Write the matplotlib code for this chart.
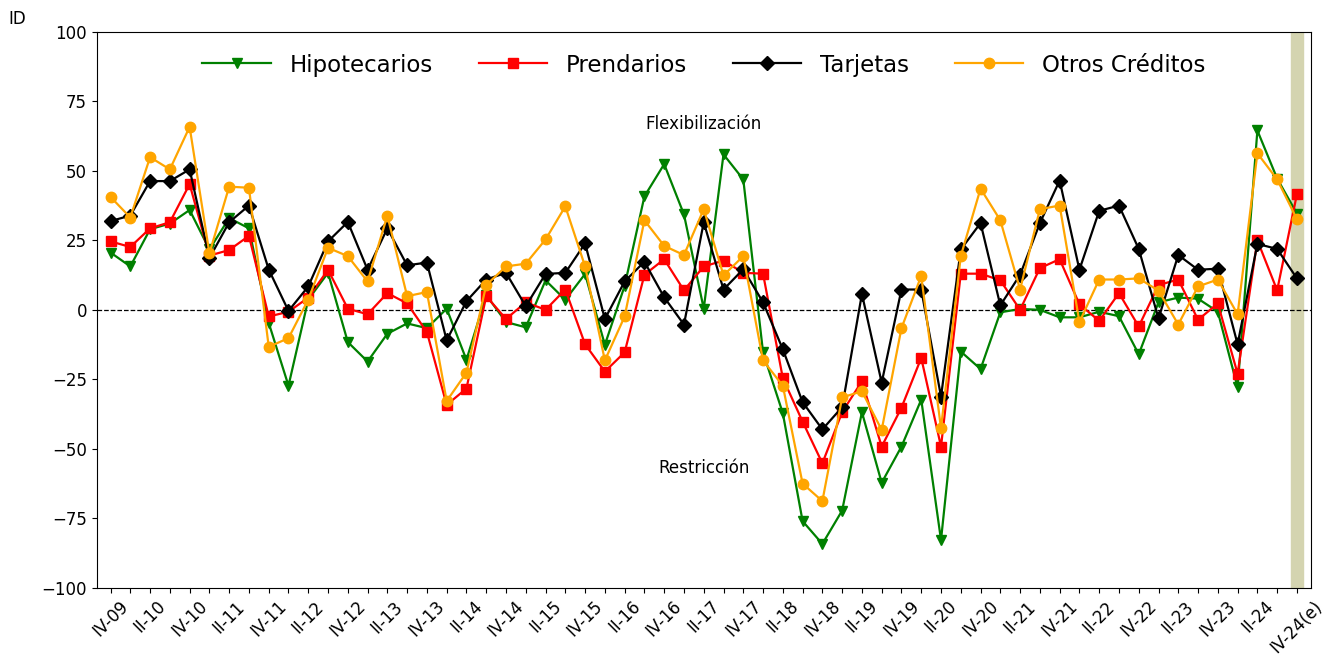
import numpy as np
import matplotlib.pyplot as plt

# quarterly series, IV-09 .. IV-24(e)
hipotecarios = [20.6, 15.6, 29, 31, 35.9, 21.7, 33, 29.3, -4.7, -27.3,
                3.7, 13.3, -11.6, -18.6, -8.6, -4.9, -6.6, 0.4, -18, 5.3,
                -4.4, -6.3, 10.6, 3.6, 12.9, -12.6, 8.6, 40.8, 52.4, 34.3,
                0.4, 55.9, 46.9, -15.3, -37.2, -76, -84.2, -72.2, -36.8, -62.2,
                -49.2, -32.3, -82.8, -15, -21.3, -0.9, 0.3, 0, -2.7, -2.7,
                -0.7, -2.3, -16, 2.7, 4.4, 4, -0.7, -27.9, 64.5, 47.2,
                34.6]
prendarios = [24.6, 22.6, 29.3, 31.5, 45.2, 19.5, 21.5, 26.6, -2.4, -0.7,
              4.4, 14.4, 0.4, -1.6, 6, 2.3, -8, -34.2, -28.3, 4.9,
              -3.3, 2.7, 0, 7.3, -12.4, -22.2, -15.3, 12.6, 18.2, 7,
              15.6, 17.7, 13.3, 13, -24.6, -40.2, -55.2, -36.8, -25.7, -49.2,
              -35.2, -17.3, -49.2, 13, 13, 10.6, 0, 15, 18.2, 2,
              -4, 6, -6, 8.9, 10.9, -3.6, 2.3, -23, 25, 7,
              41.6]
tarjetas = [31.9, 33.9, 46.3, 46.3, 50.5, 18.6, 31.5, 37.5, 14.5, -0.4,
            8.4, 24.6, 31.6, 14.4, 29.3, 16, 17, -11, 3.1, 10.9,
            13.3, 1.3, 12.9, 13.3, 23.9, -3.3, 10.2, 17.3, 4.5, -5.3,
            31.5, 7.3, 14.6, 2.7, -14.2, -33.2, -43, -35, 5.7, -26.2,
            7.3, 7.3, -31.2, 21.7, 31.2, 1.6, 12.6, 31.2, 46.5, 14.4,
            35.6, 37.5, 21.9, -3.1, 19.7, 14.4, 14.8, -12.4, 23.7, 21.9,
            11.3]
otros = [40.6, 33.2, 54.9, 50.5, 65.8, 20.3, 44.3, 43.9, -13.3, -10.2,
         3.7, 22.3, 19.3, 10.2, 33.9, 4.9, 6.4, -32.8, -22.6, 8.9,
         15.6, 16.6, 25.3, 37.2, 15.6, -18.2, -2.4, 32.2, 23, 19.7,
         36.2, 12.4, 19.3, -18.2, -27.3, -62.5, -68.8, -31.5, -29.3, -43.2,
         -6.6, 12.2, -42.6, 19.3, 43.6, 32.2, 7.3, 36.2, 37.5, -4.4,
         10.9, 10.9, 11.3, 6.9, -5.3, 8.4, 10.9, -1.6, 56.3, 46.9,
         32.6]

tick_labels = ['IV-09', 'II-10', 'IV-10', 'II-11', 'IV-11', 'II-12', 'IV-12', 'II-13',
               'IV-13', 'II-14', 'IV-14', 'II-15', 'IV-15', 'II-16', 'IV-16', 'II-17',
               'IV-17', 'II-18', 'IV-18', 'II-19', 'IV-19', 'II-20', 'IV-20', 'II-21',
               'IV-21', 'II-22', 'IV-22', 'II-23', 'IV-23', 'II-24', 'IV-24(e)']

x = np.arange(len(hipotecarios))

fig = plt.figure(figsize=(13.43, 6.62), dpi=100)
ax = fig.add_axes([0.072, 0.112, 0.904, 0.84])

ax.axvspan(x[-1] - 0.3, x[-1] + 0.3, color='#d4d4b0', zorder=0)
ax.axhline(0, color='black', linestyle='--', linewidth=0.9, zorder=1)

ax.plot(x, hipotecarios, color='green', marker='v', markersize=7.5, linewidth=1.6, label='Hipotecarios')
ax.plot(x, prendarios, color='red', marker='s', markersize=7.5, linewidth=1.6, label='Prendarios')
ax.plot(x, tarjetas, color='black', marker='D', markersize=7.5, linewidth=1.6, label='Tarjetas')
ax.plot(x, otros, color='orange', marker='o', markersize=7.5, linewidth=1.6, label='Otros Créditos')

ax.set_ylim(-100, 100)
ax.set_xlim(-0.7, 60.7)
ax.set_yticks([-100, -75, -50, -25, 0, 25, 50, 75, 100])
ax.tick_params(axis='y', labelsize=12)

labels = [''] * len(x)
labels[::2] = tick_labels
ax.set_xticks(x)
ax.set_xticklabels(labels, rotation=45, fontsize=12)

ax.text(30, 67, 'Flexibilización', ha='center', va='center', fontsize=12)
ax.text(30, -57, 'Restricción', ha='center', va='center', fontsize=12)
fig.text(0.006, 0.972, 'ID', fontsize=12, ha='left', va='center')

ax.legend(loc='upper center', ncol=4, frameon=False, fontsize=16.5,
          handlelength=3, columnspacing=2.0, bbox_to_anchor=(0.5, 0.998))

fig.savefig('out.png', dpi=100)
